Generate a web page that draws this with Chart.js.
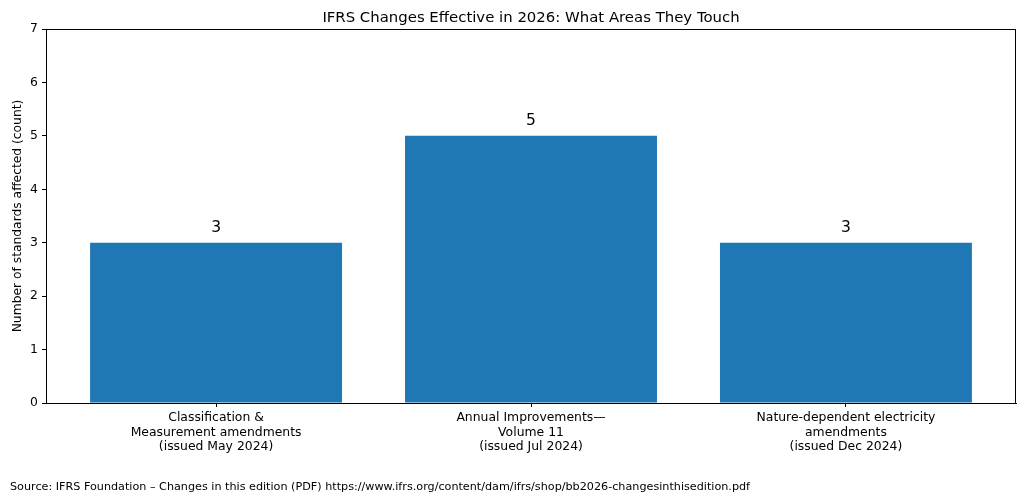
<!DOCTYPE html>
<html>
<head>
<meta charset="utf-8">
<script src="https://cdn.jsdelivr.net/npm/chart.js@4.4.1/dist/chart.umd.min.js"></script>
<style>
  html, body { margin: 0; padding: 0; background: #fff; }
  #wrap { width: 1024px; height: 503px; }
</style>
</head>
<body>
<div id="wrap"><canvas id="bar-chart"></canvas></div>
<script>
var categories = [
    ["Classification &", "Measurement amendments", "(issued May 2024)"],
    ["Annual Improvements\u2014", "Volume 11", "(issued Jul 2024)"],
    ["Nature-dependent electricity", "amendments", "(issued Dec 2024)"]
];
var counts = [3, 5, 3];
var yTicks = [0, 1, 2, 3, 4, 5, 6, 7];

var titleText = "IFRS Changes Effective in 2026: What Areas They Touch";
var sourceText = "Source: IFRS Foundation \u2013 Changes in this edition (PDF) https://www.ifrs.org/content/dam/ifrs/shop/bb2026-changesinthisedition.pdf";

var font = "'DejaVu Sans', sans-serif";

var extras = {
    id: 'extras',
    afterDraw: function (chart) {
        var ctx = chart.ctx;
        var a = chart.chartArea;
        ctx.save();
        // frame
        ctx.strokeStyle = '#000';
        ctx.lineWidth = 1;
        ctx.strokeRect(Math.round(a.left) + 0.5, Math.round(a.top) + 0.5,
                       Math.round(a.right - a.left) - 1, Math.round(a.bottom - a.top));
        // title
        ctx.fillStyle = '#000';
        ctx.font = "14.9px " + font;
        ctx.textAlign = 'center';
        ctx.textBaseline = 'alphabetic';
        ctx.fillText(titleText, (a.left + a.right) / 2, 22);
        // value labels
        ctx.font = "15.5px " + font;
        var meta = chart.getDatasetMeta(0);
        meta.data.forEach(function (bar, i) {
            ctx.fillText(String(counts[i]), bar.x, bar.y - 11);
        });
        // source
        ctx.font = "11.2px " + font;
        ctx.textAlign = 'left';
        ctx.textBaseline = 'middle';
        ctx.fillText(sourceText, 10, 487);
        ctx.restore();
    }
};

var x = document.getElementById("bar-chart");
var y = new Chart(x, {
    type: 'bar',
    data: {
        datasets: [{
            data: counts.map(function (v, i) { return { x: i, y: v }; }),
            backgroundColor: '#1f77b4',
            borderWidth: 0,
            barPercentage: 0.8,
            categoryPercentage: 1.0
        }]
    },
    options: {
        responsive: true,
        maintainAspectRatio: false,
        animation: false,
        layout: { padding: { top: 29, right: 8, left: 0, bottom: 40 } },
        plugins: {
            legend: { display: false },
            title: { display: false },
            tooltip: { enabled: false }
        },
        scales: {
            x: {
                type: 'linear',
                offset: false,
                min: -0.54,
                max: 2.54,
                afterBuildTicks: function (axis) {
                    axis.ticks = [0, 1, 2].map(function (v) { return { value: v }; });
                },
                afterFit: function (axis) { axis.height = 60; },
                ticks: {
                    color: '#000',
                    font: { family: font, size: 12.4 },
                    padding: 3,
                    maxRotation: 0,
                    autoSkip: false,
                    callback: function (v) { return categories[v]; }
                },
                grid: { display: true, offset: false, drawOnChartArea: false, drawTicks: true, tickLength: 4, color: '#000' },
                border: { display: true, color: '#000' }
            },
            y: {
                min: 0,
                max: 7,
                afterBuildTicks: function (axis) {
                    axis.ticks = yTicks.map(function (v) { return { value: v }; });
                },
                afterFit: function (axis) { axis.width = 46; },
                ticks: {
                    color: '#000',
                    font: { family: font, size: 12.4 },
                    padding: 4
                },
                grid: { display: true, drawOnChartArea: false, drawTicks: true, tickLength: 4, color: '#000' },
                border: { display: true, color: '#000' },
                title: {
                    display: true,
                    text: 'Number of standards affected (count)',
                    color: '#000',
                    font: { family: font, size: 12.3 },
                    padding: { top: 10, bottom: 4 }
                }
            }
        }
    },
    plugins: [extras]
});
</script>
</body>
</html>
